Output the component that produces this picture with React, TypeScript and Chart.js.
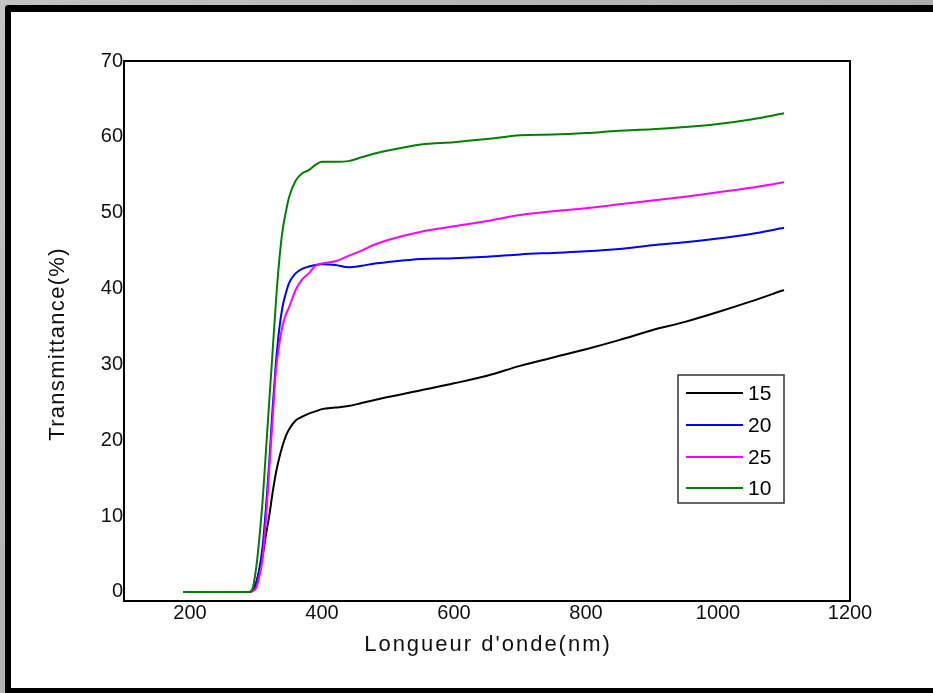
import React, { useEffect, useRef } from "react";
import { Chart, registerables } from "chart.js";

Chart.register(...registerables);

// ---- data ----
const wavelengths = [190, 290, 295, 300, 305, 310, 315, 320, 325, 330, 335, 340, 345, 350, 360, 370, 380, 390, 400, 420, 440, 460, 480, 500, 550, 600, 650, 700, 750, 800, 850, 900, 950, 1000, 1050, 1100];

const series15 = [0, 0, 0.2, 1.2, 2.8, 4.7, 7.5, 10, 13, 15.6, 17.6, 19.2, 20.5, 21.4, 22.6, 23.1, 23.5, 23.8, 24.1, 24.3, 24.5, 24.9, 25.3, 25.7, 26.6, 27.5, 28.5, 29.8, 30.9, 32, 33.2, 34.5, 35.6, 36.9, 38.3, 39.8];
const series20 = [0, 0, 0.2, 1, 3, 6, 11, 17, 24, 30, 34.5, 37.5, 39.3, 40.7, 42, 42.6, 42.9, 43.1, 43.2, 43.1, 42.8, 43, 43.3, 43.5, 43.9, 44, 44.2, 44.5, 44.7, 44.9, 45.2, 45.7, 46.1, 46.6, 47.2, 48];
const series25 = [0, 0, 0.1, 0.5, 2, 4.5, 9.5, 16, 22.5, 29, 32.5, 35, 36.5, 37.5, 39.8, 41.2, 42, 43, 43.3, 43.6, 44.3, 45, 45.8, 46.4, 47.5, 48.2, 48.9, 49.7, 50.2, 50.6, 51.1, 51.6, 52.1, 52.7, 53.3, 54];
const series10 = [0, 0, 0.5, 3, 7, 12, 18.5, 25, 31.5, 38, 43.5, 47.5, 50, 52, 54.2, 55.2, 55.6, 56.3, 56.7, 56.7, 56.8, 57.3, 57.8, 58.2, 59, 59.3, 59.7, 60.2, 60.3, 60.5, 60.8, 61, 61.3, 61.7, 62.3, 63.1];

const seriesLabels = ["15", "20", "25", "10"];
const seriesColors = ["#000000", "#0000ff", "#ff00ff", "#008000"];
const seriesValues = [series15, series20, series25, series10];

const xTicks = [200, 400, 600, 800, 1000, 1200];
const yTicks = [0, 10, 20, 30, 40, 50, 60, 70];

const xTitle = "Longueur d'onde(nm)";
const yTitle = "Transmittance(%)";

const FONT = "'Liberation Sans', Arial, sans-serif";

const overlayPlugin = {
  id: "overlay",
  afterDraw(chart: any) {
    const { ctx, chartArea } = chart;
    ctx.save();
    // plot frame
    ctx.strokeStyle = "#000";
    ctx.lineWidth = 2;
    ctx.strokeRect(chartArea.left, chartArea.top, chartArea.right - chartArea.left, chartArea.bottom - chartArea.top);

    // titles
    ctx.fillStyle = "#111";
    ctx.font = `22px ${FONT}`;
    ctx.textAlign = "center";
    ctx.textBaseline = "middle";
    try { (ctx as any).letterSpacing = "2px"; } catch (e) {}
    ctx.fillText(xTitle, 488, 645);
    ctx.save();
    ctx.translate(58, 344);
    ctx.rotate(-Math.PI / 2);
    try { (ctx as any).letterSpacing = "1.3px"; } catch (e) {}
    ctx.fillText(yTitle, 0, 0);
    ctx.restore();
    try { (ctx as any).letterSpacing = "0px"; } catch (e) {}

    // legend
    const bx = 678, by = 375, bw = 106, bh = 128;
    ctx.strokeStyle = "#333";
    ctx.lineWidth = 1.5;
    ctx.strokeRect(bx, by, bw, bh);
    const rows = [393, 425, 457, 488];
    ctx.font = `21px ${FONT}`;
    ctx.textAlign = "left";
    ctx.textBaseline = "middle";
    seriesLabels.forEach((lab, i) => {
      ctx.strokeStyle = seriesColors[i];
      ctx.lineWidth = 2;
      ctx.beginPath();
      ctx.moveTo(686, rows[i]);
      ctx.lineTo(743, rows[i]);
      ctx.stroke();
      ctx.fillStyle = "#000";
      ctx.fillText(lab, 748, rows[i] + 1);
    });
    ctx.restore();
  },
};

export default function App() {
  const ref = useRef<HTMLCanvasElement>(null);

  useEffect(() => {
    if (!ref.current) return;
    const datasets = seriesLabels.map((lab, i) => ({
      label: lab,
      data: wavelengths.map((w, j) => ({ x: w, y: seriesValues[i][j] })),
      borderColor: seriesColors[i],
      backgroundColor: seriesColors[i],
      borderWidth: 2,
      pointRadius: 0,
      fill: false,
      cubicInterpolationMode: "monotone" as const,
      order: 3 - i,
    }));
    const chart = new Chart(ref.current, {
      type: "line",
      data: { datasets },
      plugins: [overlayPlugin],
      options: {
        animation: false,
        responsive: false,
        devicePixelRatio: 1,
        layout: { padding: { left: 40, top: 61, right: 83, bottom: 0 } },
        plugins: { legend: { display: false }, tooltip: { enabled: false }, title: { display: false } },
        scales: {
          x: {
            type: "linear",
            min: 100,
            max: 1200,
            grid: { display: false, drawTicks: false },
            border: { display: false },
            afterBuildTicks: (scale: any) => {
              scale.ticks = xTicks.map((v) => ({ value: v }));
            },
            afterFit: (scale: any) => {
              scale.height = 92;
            },
            ticks: {
              padding: 0,
              color: "#111",
              font: { family: FONT, size: 20 },
              maxRotation: 0,
              autoSkip: false,
              callback: (v: any) => String(v),
            },
          },
          y: {
            type: "linear",
            min: -1.2,
            max: 70,
            grid: { display: false, drawTicks: false },
            border: { display: false },
            afterBuildTicks: (scale: any) => {
              scale.ticks = yTicks.map((v) => ({ value: v }));
            },
            afterFit: (scale: any) => {
              scale.width = 84;
            },
            ticks: {
              padding: 1,
              color: "#111",
              font: { family: FONT, size: 20 },
              autoSkip: false,
              callback: (v: any) => String(v),
            },
          },
        },
      },
    });
    return () => chart.destroy();
  }, []);

  return (
    <div style={{ position: "absolute", left: 0, top: 0, width: 933, height: 693, overflow: "hidden", background: "linear-gradient(135deg, #c4c4c4, #9a9a9a)" }}>
      <div
        style={{
          position: "absolute",
          left: 0,
          top: 5,
          width: 960,
          height: 688,
          boxSizing: "border-box",
          borderLeft: "6px solid #000",
          borderTop: "7px solid #000",
          borderBottom: "5px solid #000",
          borderTopLeftRadius: 4,
          background: "#fff",
          marginLeft: 5,
        }}
      />
      <canvas ref={ref} width={933} height={693} style={{ position: "absolute", left: 0, top: 0, display: "block" }} />
    </div>
  );
}
